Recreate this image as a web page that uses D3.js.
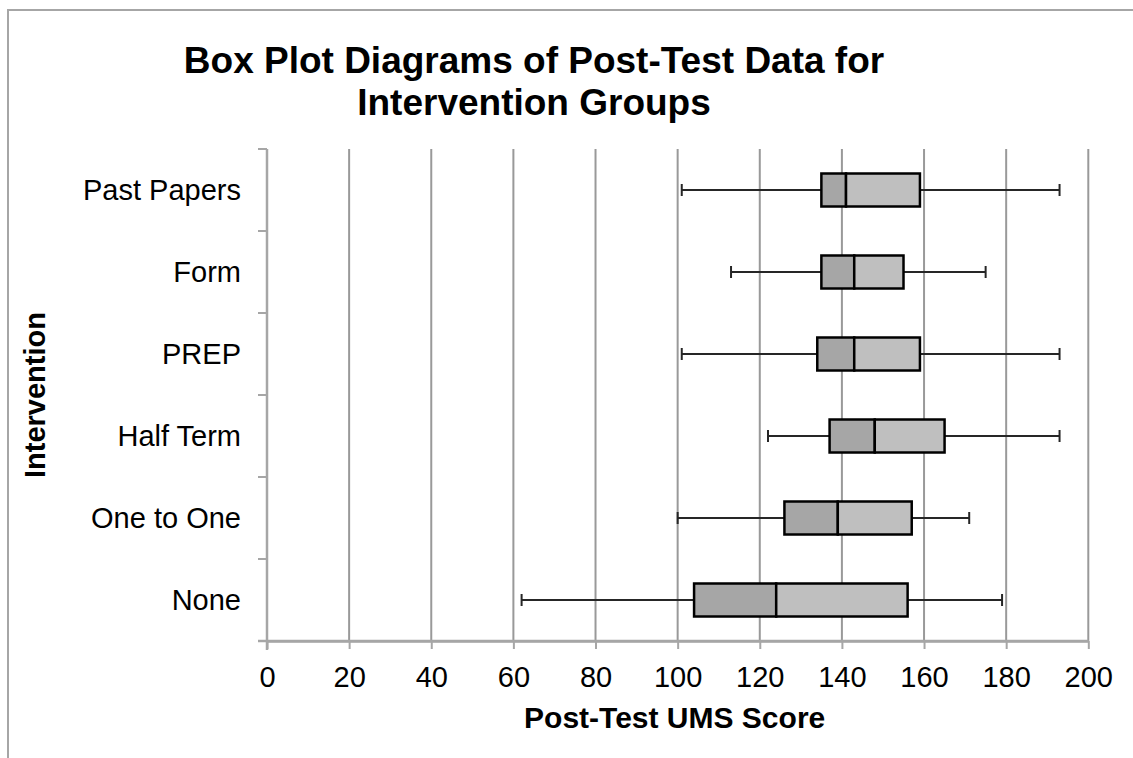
<!DOCTYPE html>
<html><head><meta charset="utf-8">
<script src="https://cdn.jsdelivr.net/npm/d3@7"></script>
<style>body{margin:0;background:#fff}svg{display:block}</style>
</head><body>
<svg id="c" width="1133" height="758"></svg>
<script>
const categories = ["Past Papers","Form","PREP","Half Term","One to One","None"];
const minVals    = [101, 113, 101, 122, 100, 62];
const q1Vals     = [135, 135, 134, 137, 126, 104];
const medianVals = [141, 143, 143, 148, 139, 124];
const q3Vals     = [159, 155, 159, 165, 157, 156];
const maxVals    = [193, 175, 193, 193, 171, 179];
const xTicks     = [0,20,40,60,80,100,120,140,160,180,200];

const data = categories.map((c,i)=>({c, min:minVals[i], q1:q1Vals[i], med:medianVals[i], q3:q3Vals[i], max:maxVals[i]}));

const svg = d3.select("#c");
const font = "'Liberation Sans', Arial, sans-serif";
const L = 267, R = 1088.3, T = 149, B = 641;

// chart border
svg.append("path").attr("d","M8,760 L8,10 L1135,10").attr("fill","none").attr("stroke","#a6a6a6").attr("stroke-width",2);

const x = d3.scaleLinear().domain([0,200]).range([L,R]);
const y = d3.scaleBand().domain(categories).range([T,B]);

// gridlines
svg.append("g").selectAll("line").data(xTicks.slice(1)).join("line")
  .attr("x1",d=>x(d)).attr("x2",d=>x(d)).attr("y1",T).attr("y2",B)
  .attr("stroke","#999").attr("stroke-width",2);

// x axis
const xa = svg.append("g").attr("transform",`translate(0,${B})`)
  .call(d3.axisBottom(x).tickValues(xTicks).tickSize(8).tickPadding(17).tickSizeOuter(0));
xa.select(".domain").attr("stroke","#a6a6a6").attr("stroke-width",2.5);
xa.selectAll(".tick line").attr("stroke","#a6a6a6").attr("stroke-width",2);
xa.selectAll("text").attr("font-family",font).attr("font-size",29).attr("fill","#000").attr("dy","0.72em");

// y axis ticks at band boundaries
const yBounds = categories.map(c=>y(c)).concat([B]);
svg.append("g").selectAll("line").data(yBounds).join("line")
  .attr("x1",L-9).attr("x2",L).attr("y1",d=>d).attr("y2",d=>d)
  .attr("stroke","#a6a6a6").attr("stroke-width",2);
svg.append("line").attr("x1",L).attr("x2",L).attr("y1",T).attr("y2",B+9)
  .attr("stroke","#a6a6a6").attr("stroke-width",2.5);
svg.append("line").attr("x1",L-9).attr("x2",R).attr("y1",B).attr("y2",B)
  .attr("stroke","#a6a6a6").attr("stroke-width",2.5);

// category labels
svg.append("g").selectAll("text").data(categories).join("text")
  .attr("x",241).attr("y",d=>y(d)+y.bandwidth()/2).attr("dy","0.36em")
  .attr("text-anchor","end").attr("font-family",font).attr("font-size",29).attr("fill","#000")
  .text(d=>d);

// boxes
const bh = 33, cap = 12;
const g = svg.append("g").selectAll("g").data(data).join("g")
  .attr("transform",d=>`translate(0,${y(d.c)+y.bandwidth()/2})`);
g.append("line").attr("x1",d=>x(d.min)).attr("x2",d=>x(d.q1)).attr("y1",0).attr("y2",0).attr("stroke","#262626").attr("stroke-width",2);
g.append("line").attr("x1",d=>x(d.q3)).attr("x2",d=>x(d.max)).attr("y1",0).attr("y2",0).attr("stroke","#262626").attr("stroke-width",2);
g.append("line").attr("x1",d=>x(d.min)).attr("x2",d=>x(d.min)).attr("y1",-cap/2).attr("y2",cap/2).attr("stroke","#262626").attr("stroke-width",2);
g.append("line").attr("x1",d=>x(d.max)).attr("x2",d=>x(d.max)).attr("y1",-cap/2).attr("y2",cap/2).attr("stroke","#262626").attr("stroke-width",2);
g.append("rect").attr("x",d=>x(d.q1)).attr("width",d=>x(d.med)-x(d.q1)).attr("y",-bh/2).attr("height",bh)
  .attr("fill","#a6a6a6").attr("stroke","#000").attr("stroke-width",2.5);
g.append("rect").attr("x",d=>x(d.med)).attr("width",d=>x(d.q3)-x(d.med)).attr("y",-bh/2).attr("height",bh)
  .attr("fill","#bfbfbf").attr("stroke","#000").attr("stroke-width",2.5);

// titles
const title = svg.append("text").attr("text-anchor","middle").attr("font-family",font).attr("font-weight","bold").attr("font-size",37).attr("fill","#000");
title.append("tspan").attr("x",534).attr("y",73).text("Box Plot Diagrams of Post-Test Data for");
title.append("tspan").attr("x",534).attr("y",115).text("Intervention Groups");

svg.append("text").attr("x",(L+R)/2 - 3).attr("y",728).attr("text-anchor","middle").attr("font-family",font).attr("font-weight","bold").attr("font-size",30).attr("fill","#000").text("Post-Test UMS Score");
svg.append("text").attr("transform",`translate(45,${(T+B)/2}) rotate(-90)`).attr("text-anchor","middle").attr("font-family",font).attr("font-weight","bold").attr("font-size",29).attr("fill","#000").text("Intervention");
</script>
</body></html>
